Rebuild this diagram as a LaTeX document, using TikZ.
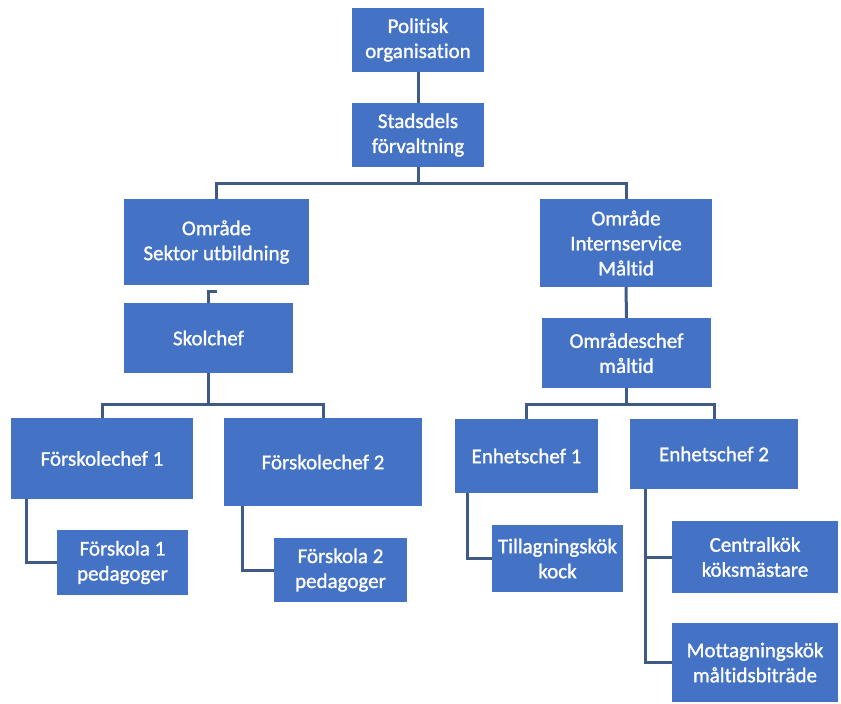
\documentclass[tikz,border=0pt]{standalone}
\usepackage{fontspec}
\setmainfont{Carlito}[Ligatures=NoCommon]
\newfontfamily\boxfont{Carlito}[Ligatures=NoCommon, FakeBold=1.2]
\definecolor{boxblue}{HTML}{4472C4}
\definecolor{linecol}{HTML}{3E5A85}
\begin{document}
\begin{tikzpicture}[x=1pt,y=-1pt,
  box/.style={fill=boxblue, draw=none, text=white, align=center, inner sep=0pt,
    font=\boxfont\fontsize{21}{25}\selectfont},
  conn/.style={draw=linecol, line width=3pt}]
\useasboundingbox (0,0) rectangle (841,704);
% boxes
\node[box, minimum width=132, minimum height=64] (pol) at (418,40) {Politisk\\organisation};
\node[box, minimum width=132, minimum height=64] (sdf) at (418,135) {Stadsdels\\förvaltning};
\node[box, minimum width=185, minimum height=86] (sek) at (216.5,242) {Område\\Sektor utbildning};
\node[box, minimum width=169, minimum height=70] (skol) at (208.5,338) {Skolchef};
\node[box, minimum width=172, minimum height=88] (ins) at (626,243) {Område\\Internservice\\Måltid};
\node[box, minimum width=169, minimum height=70] (omc) at (626.5,353) {Områdeschef\\måltid};
\node[box, minimum width=182, minimum height=81] (fc1) at (102,458.5) {Förskolechef 1};
\node[box, minimum width=198, minimum height=88] (fc2) at (323,462) {Förskolechef 2};
\node[box, minimum width=143, minimum height=74] (ec1) at (526.5,456) {Enhetschef 1};
\node[box, minimum width=168, minimum height=70] (ec2) at (714,454) {Enhetschef 2};
\node[box, minimum width=131, minimum height=65] (fs1) at (122.5,562.5) {Förskola 1\\pedagoger};
\node[box, minimum width=133, minimum height=64] (fs2) at (340.5,570) {Förskola 2\\pedagoger};
\node[box, minimum width=131, minimum height=67] (till) at (557.5,558.5) {Tillagningskök\\kock};
\node[box, minimum width=166, minimum height=72] (cen) at (755,557) {Centralkök\\köksmästare};
\node[box, minimum width=166, minimum height=79] (mot) at (755,662.5) {Mottagningskök\\måltidsbiträde};
% bus coordinates
\coordinate (b1) at (418,183);
\coordinate (b2) at (208.5,404);
\coordinate (b3) at (626.5,404);
% connectors
\draw[conn] (pol.south) -- (sdf.north);
\draw[conn] (sdf.south) -- (b1);
\draw[conn] (sek.north) |- (b1) -| (ins.north);
\draw[conn] (sek.south) ++(0,6) -| (skol.north);
\draw[conn] (ins.south) -- (omc.north);
\draw[conn] (skol.south) -- (b2);
\draw[conn] (fc1.north) |- (b2) -| (fc2.north);
\draw[conn] (omc.south) -- (b3);
\draw[conn] (ec1.north) |- (b3) -| (ec2.north);
\draw[conn] ([xshift=16pt]fc1.south west) |- (fs1.west);
\draw[conn] ([xshift=19pt]fc2.south west) |- (fs2.west);
\draw[conn] ([xshift=13pt]ec1.south west) |- (till.west);
\draw[conn] ([xshift=16pt]ec2.south west) |- (cen.west);
\draw[conn] ([xshift=16pt]ec2.south west) |- (mot.west);
\end{tikzpicture}
\end{document}
